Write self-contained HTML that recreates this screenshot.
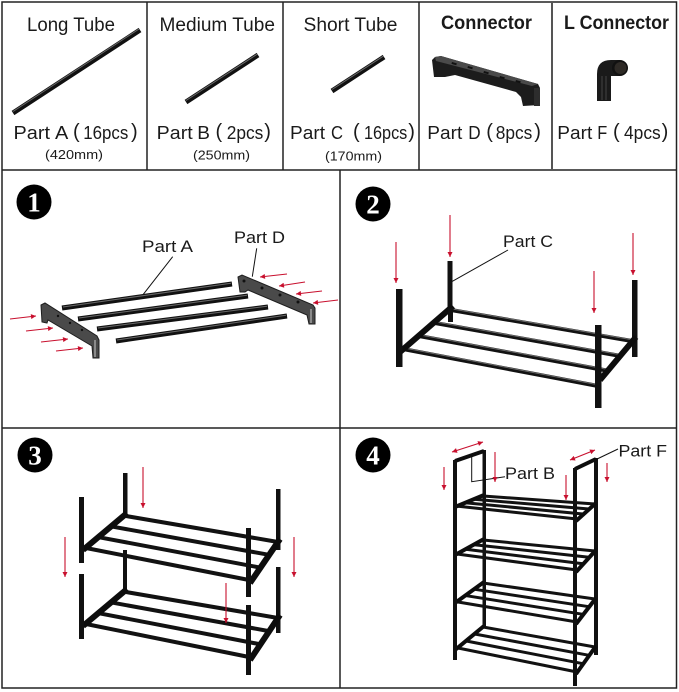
<!DOCTYPE html>
<html><head><meta charset="utf-8">
<style>
html,body{margin:0;padding:0;background:#fff;}
svg{display:block;}
.t{font-family:"Liberation Sans","Noto Sans CJK SC",sans-serif;fill:#1a1a1a;}
.num{font-family:"Liberation Serif",serif;font-weight:bold;fill:#fff;font-size:27px;}
.tube{stroke:#111;stroke-width:5;stroke-linecap:butt;}
.hl{stroke:#6a6a6a;stroke-width:1;}
.rail{stroke:#121212;stroke-width:4;}
.rail4{stroke:#121212;stroke-width:3;}
.con{stroke:#0d0d0d;stroke-width:6;}
.con4{stroke:#0d0d0d;stroke-width:4;}
.ra{stroke:#c8102e;stroke-width:1.1;fill:none;}
.ld{stroke:#111;stroke-width:1;fill:none;}
.pl{font-family:"Liberation Sans",sans-serif;fill:#1a1a1a;font-size:18px;}
.pp{font-family:"Liberation Sans",sans-serif;fill:#1a1a1a;font-size:20px;}
</style></head>
<body>
<svg width="679" height="692" viewBox="0 0 679 692" xmlns="http://www.w3.org/2000/svg">
<defs>
<marker id="ah" viewBox="0 0 10 10" refX="10" refY="5" markerWidth="7" markerHeight="5" markerUnits="userSpaceOnUse" orient="auto-start-reverse">
<path d="M0,0 L10,5 L0,10 z" fill="#c8102e"/>
</marker>
</defs>

<!-- grid -->
<g stroke="#222" stroke-width="1.5" fill="none">
<rect x="2" y="2" width="674.5" height="686"/>
<line x1="2" y1="170" x2="676.5" y2="170"/>
<line x1="2" y1="428" x2="676.5" y2="428"/>
<line x1="340" y1="170" x2="340" y2="688"/>
<line x1="147" y1="2" x2="147" y2="170"/>
<line x1="283" y1="2" x2="283" y2="170"/>
<line x1="419" y1="2" x2="419" y2="170"/>
<line x1="552" y1="2" x2="552" y2="170" stroke="#555" stroke-width="2"/>
</g>

<!-- top row texts -->
<text class="t" x="27" y="31" font-size="19" textLength="88" lengthAdjust="spacingAndGlyphs">Long Tube</text>
<text class="t" x="159.5" y="31" font-size="19" textLength="115.5" lengthAdjust="spacingAndGlyphs">Medium Tube</text>
<text class="t" x="303.5" y="31" font-size="19" textLength="94" lengthAdjust="spacingAndGlyphs">Short Tube</text>
<text class="t" x="441" y="29" font-size="19" font-weight="bold" textLength="91" lengthAdjust="spacingAndGlyphs">Connector</text>
<text class="t" x="564" y="29" font-size="19" font-weight="bold" textLength="105" lengthAdjust="spacingAndGlyphs">L Connector</text>

<!-- Part labels top row -->
<text class="pl" x="13.5" y="139" textLength="36.5" lengthAdjust="spacingAndGlyphs">Part</text>
<text class="pl" x="55" y="139" textLength="13.3" lengthAdjust="spacingAndGlyphs">A</text>
<text class="pp" x="73" y="138">(</text>
<text class="pl" x="83.3" y="139" textLength="45" lengthAdjust="spacingAndGlyphs">16pcs</text>
<text class="pp" x="131" y="138">)</text>

<text class="pl" x="156.7" y="139" textLength="36" lengthAdjust="spacingAndGlyphs">Part</text>
<text class="pl" x="197.3" y="139" textLength="12.7" lengthAdjust="spacingAndGlyphs">B</text>
<text class="pp" x="215.5" y="138">(</text>
<text class="pl" x="226.7" y="139" textLength="36.6" lengthAdjust="spacingAndGlyphs">2pcs</text>
<text class="pp" x="264.3" y="138">)</text>

<text class="pl" x="290" y="139" textLength="35" lengthAdjust="spacingAndGlyphs">Part</text>
<text class="pl" x="331" y="139" textLength="12" lengthAdjust="spacingAndGlyphs">C</text>
<text class="pp" x="353" y="138">(</text>
<text class="pl" x="364" y="139" textLength="43.3" lengthAdjust="spacingAndGlyphs">16pcs</text>
<text class="pp" x="408.3" y="138">)</text>

<text class="pl" x="427.3" y="139" textLength="35" lengthAdjust="spacingAndGlyphs">Part</text>
<text class="pl" x="468.3" y="139" textLength="12.4" lengthAdjust="spacingAndGlyphs">D</text>
<text class="pp" x="486.3" y="138">(</text>
<text class="pl" x="495.7" y="139" textLength="36.6" lengthAdjust="spacingAndGlyphs">8pcs</text>
<text class="pp" x="534.3" y="138">)</text>

<text class="pl" x="557.3" y="139" textLength="35" lengthAdjust="spacingAndGlyphs">Part</text>
<text class="pl" x="597.3" y="139" textLength="10" lengthAdjust="spacingAndGlyphs">F</text>
<text class="pp" x="613" y="138">(</text>
<text class="pl" x="624" y="139" textLength="36.7" lengthAdjust="spacingAndGlyphs">4pcs</text>
<text class="pp" x="661.6" y="138">)</text>

<text class="t" x="45" y="159" font-size="13" textLength="58" lengthAdjust="spacingAndGlyphs">(420mm)</text>
<text class="t" x="193" y="159.5" font-size="13" textLength="57" lengthAdjust="spacingAndGlyphs">(250mm)</text>
<text class="t" x="325" y="160.5" font-size="13" textLength="57" lengthAdjust="spacingAndGlyphs">(170mm)</text>

<!-- top row tubes -->
<line class="tube" x1="13" y1="113" x2="140" y2="30" stroke-width="5.5"/>
<line class="hl" x1="13" y1="111.5" x2="139" y2="29"/>
<line class="tube" x1="186" y1="102" x2="258" y2="55"/>
<line class="hl" x1="186" y1="100.5" x2="257.5" y2="54"/>
<line class="tube" x1="332" y1="91" x2="384" y2="57"/>
<line class="hl" x1="332" y1="89.5" x2="383.5" y2="56"/>

<!-- connector part D -->
<polygon points="432,60 435,57 441,56 538,84 540,88 540,105 523,106 521,97 516,92 455,75 450,76 445,77 434,77" fill="#1c1c1c"/>
<polygon points="435,57 441,56 538,84 532,86 436,61" fill="#4a4a4a"/>
<g fill="#111">
<rect x="452" y="62" width="5" height="2" transform="rotate(16 452 62)"/>
<rect x="468" y="66" width="5" height="2" transform="rotate(16 468 66)"/>
<rect x="484" y="71" width="5" height="2" transform="rotate(16 484 71)"/>
<rect x="500" y="76" width="5" height="2" transform="rotate(16 500 76)"/>
<rect x="516" y="80" width="5" height="2" transform="rotate(16 516 80)"/>
</g>
<rect x="534" y="88" width="6" height="18" fill="#2d2d2d"/>

<!-- L connector -->
<path d="M597 101 V74 Q597 60 611 60 H620 V76 H611 V101 Z" fill="#1a1a1a"/>
<circle cx="620" cy="68" r="8" fill="#111"/>
<circle cx="620.5" cy="68" r="6" fill="#2e2a26"/>
<line x1="602" y1="76" x2="602" y2="100" stroke="#444" stroke-width="1"/>
<line x1="606" y1="76" x2="606" y2="100" stroke="#444" stroke-width="1"/>

<!-- badges -->
<circle cx="34" cy="202" r="17.5" fill="#000"/>
<text class="num" x="34" y="211.5" text-anchor="middle">1</text>
<circle cx="373" cy="204" r="17.5" fill="#000"/>
<text class="num" x="373" y="213.5" text-anchor="middle">2</text>
<circle cx="35" cy="455" r="17.5" fill="#000"/>
<text class="num" x="35" y="464.5" text-anchor="middle">3</text>
<circle cx="373" cy="455" r="17.5" fill="#000"/>
<text class="num" x="373" y="464.5" text-anchor="middle">4</text>

<!-- PANEL 1 -->
<text class="t" x="142" y="252" font-size="16.5" textLength="51" lengthAdjust="spacingAndGlyphs">Part A</text>
<text class="t" x="234" y="243" font-size="16.5" textLength="51" lengthAdjust="spacingAndGlyphs">Part D</text>
<line class="ld" x1="172.7" y1="256.7" x2="143.3" y2="294.3"/>
<line class="ld" x1="256.7" y1="248.3" x2="252.3" y2="276.7"/>

<line class="tube" x1="62" y1="308" x2="232" y2="284"/>
<line class="hl" x1="63" y1="307" x2="231" y2="283.2"/>
<line class="tube" x1="78" y1="319" x2="248" y2="296"/>
<line class="hl" x1="79" y1="318" x2="247" y2="295.2"/>
<line class="tube" x1="97" y1="329" x2="268" y2="307"/>
<line class="hl" x1="98" y1="328" x2="267" y2="306.2"/>
<line class="tube" x1="116" y1="341" x2="287" y2="316"/>
<line class="hl" x1="117" y1="340" x2="286" y2="315.2"/>

<polygon points="41,305 45,303 97,336 99,340 99,358 93,358 92,346 48,320 47,323 42,322" fill="#4a4a4a" stroke="#1e1e1e" stroke-width="1"/>
<line x1="95" y1="340" x2="95" y2="357" stroke="#ccc" stroke-width="1"/>
<polygon points="238,277 242,275 313,305 315,308 315,324 309,324 307,315 248,290 245,292 240,292" fill="#4a4a4a" stroke="#1e1e1e" stroke-width="1"/>
<line x1="311" y1="309" x2="311" y2="323" stroke="#ccc" stroke-width="1"/>
<g fill="#111">
<circle cx="244" cy="281" r="1.5"/><circle cx="262" cy="288" r="1.5"/><circle cx="280" cy="295" r="1.5"/><circle cx="298" cy="302" r="1.5"/>
<circle cx="58" cy="316" r="1.2"/><circle cx="70" cy="323" r="1.2"/><circle cx="82" cy="330" r="1.2"/>
</g>

<g class="ra" marker-end="url(#ah)">
<line x1="10" y1="319" x2="36" y2="316"/>
<line x1="26" y1="331" x2="53" y2="328"/>
<line x1="41" y1="342" x2="68" y2="339"/>
<line x1="56" y1="351" x2="83" y2="348"/>
<line x1="287" y1="274" x2="260" y2="277"/>
<line x1="305" y1="282" x2="279" y2="286"/>
<line x1="322" y1="291" x2="296" y2="294"/>
<line x1="338" y1="300" x2="313" y2="303"/>
</g>

<!-- PANEL 2 -->
<text class="t" x="503" y="247" font-size="16.5" textLength="50" lengthAdjust="spacingAndGlyphs">Part C</text>
<line class="ld" x1="508" y1="250" x2="451.7" y2="281.7"/>
<rect x="447.5" y="261" width="5" height="51" fill="#111"/>
<rect x="632" y="280" width="5.5" height="77" fill="#111"/>
<line class="rail" x1="451" y1="310" x2="632" y2="341"/>
<line class="rail" x1="435" y1="323" x2="620.7" y2="356"/>
<line class="rail" x1="419" y1="336" x2="609.3" y2="371"/>
<line class="rail" x1="403" y1="349" x2="598" y2="386"/>
<g class="hl"><line x1="451" y1="308.8" x2="632" y2="339.8"/><line x1="435" y1="321.8" x2="620.7" y2="354.8"/><line x1="419" y1="334.8" x2="609.3" y2="369.8"/><line x1="403" y1="347.8" x2="598" y2="384.8"/></g>
<line class="con" x1="453" y1="306" x2="400" y2="352"/>
<line class="con" x1="636" y1="337" x2="600" y2="380"/>
<rect x="448" y="308" width="5" height="14" fill="#111"/>
<rect x="396" y="289" width="6.5" height="78" fill="#111"/>
<rect x="595" y="325" width="6.5" height="83" fill="#111"/>
<g class="ra" marker-end="url(#ah)">
<line x1="396" y1="242" x2="396" y2="283"/>
<line x1="450" y1="215" x2="450" y2="257"/>
<line x1="594" y1="271" x2="594" y2="313"/>
<line x1="633" y1="233" x2="633" y2="275"/>
</g>

<!-- PANEL 3 -->
<rect x="123" y="473" width="4.5" height="44" fill="#111"/>
<rect x="276" y="489" width="4.5" height="61" fill="#111"/>
<line class="rail" x1="126" y1="516" x2="278" y2="542"/>
<line class="rail" x1="112.7" y1="526.7" x2="268.3" y2="554.7"/>
<line class="rail" x1="99.3" y1="537.3" x2="258.7" y2="567.3"/>
<line class="rail" x1="86" y1="548" x2="249" y2="580"/>
<line class="con" x1="127" y1="513" x2="83" y2="550"/>
<line class="con" x1="280" y1="539" x2="250" y2="583"/>
<rect x="79" y="497" width="5" height="66" fill="#111"/>
<rect x="246" y="528" width="5" height="69" fill="#111"/>
<rect x="123" y="550" width="4" height="42" fill="#111"/>
<rect x="276" y="567" width="4.5" height="66" fill="#111"/>
<line class="rail" x1="126" y1="592" x2="278" y2="618"/>
<line class="rail" x1="112.7" y1="602.7" x2="268.3" y2="631"/>
<line class="rail" x1="99.3" y1="613.3" x2="258.7" y2="644"/>
<line class="rail" x1="86" y1="624" x2="249" y2="657"/>
<line class="con" x1="127" y1="589" x2="83" y2="626"/>
<line class="con" x1="280" y1="615" x2="250" y2="660"/>
<rect x="79" y="574" width="5" height="65" fill="#111"/>
<rect x="246" y="605" width="5" height="70" fill="#111"/>
<g class="ra" marker-end="url(#ah)">
<line x1="143" y1="467" x2="143" y2="508"/>
<line x1="65" y1="537" x2="65" y2="577"/>
<line x1="294" y1="537" x2="294" y2="577"/>
<line x1="226" y1="583" x2="226" y2="623"/>
</g>

<!-- PANEL 4 -->
<rect x="482.5" y="450" width="3.5" height="178" fill="#111"/>
<rect x="594" y="458" width="4" height="197" fill="#111"/>
<line class="con4" x1="455" y1="461" x2="484" y2="451"/>
<line class="con4" x1="575" y1="469" x2="596" y2="459"/>
<line class="rail4" x1="483" y1="496" x2="595" y2="504"/>
<line class="rail4" x1="474" y1="499.3" x2="589" y2="509"/>
<line class="rail4" x1="465" y1="502.7" x2="583" y2="514"/>
<line class="rail4" x1="456" y1="506" x2="577" y2="519"/>
<line class="con4" x1="484" y1="495" x2="455" y2="507"/>
<line class="con4" x1="596" y1="503" x2="576" y2="521"/>
<line class="rail4" x1="483" y1="540" x2="595" y2="551"/>
<line class="rail4" x1="474.3" y1="544.7" x2="589" y2="557.3"/>
<line class="rail4" x1="465.7" y1="549.3" x2="583" y2="563.7"/>
<line class="rail4" x1="457" y1="554" x2="577" y2="570"/>
<line class="con4" x1="484" y1="539" x2="455" y2="555"/>
<line class="con4" x1="596" y1="550" x2="576" y2="572"/>
<line class="rail4" x1="483" y1="583" x2="595" y2="599"/>
<line class="rail4" x1="474.7" y1="589.3" x2="589" y2="606.7"/>
<line class="rail4" x1="466.3" y1="595.7" x2="583" y2="614.3"/>
<line class="rail4" x1="458" y1="602" x2="577" y2="622"/>
<line class="con4" x1="484" y1="582" x2="455" y2="603"/>
<line class="con4" x1="596" y1="598" x2="576" y2="624"/>
<line class="rail4" x1="483" y1="627" x2="595" y2="647"/>
<line class="rail4" x1="474.7" y1="634" x2="589" y2="655.3"/>
<line class="rail4" x1="466.3" y1="641" x2="583" y2="663.7"/>
<line class="rail4" x1="458" y1="648" x2="577" y2="672"/>
<line class="con4" x1="484" y1="626" x2="455" y2="650"/>
<line class="con4" x1="596" y1="646" x2="576" y2="674"/>
<rect x="453" y="460" width="4" height="200" fill="#111"/>
<rect x="573" y="468" width="4" height="218" fill="#111"/>

<text class="t" x="505" y="479" font-size="16.5" textLength="50" lengthAdjust="spacingAndGlyphs">Part B</text>
<text class="t" x="618.5" y="456.5" font-size="16.5" textLength="48.5" lengthAdjust="spacingAndGlyphs">Part F</text>
<polyline class="ld" points="471.7,456.7 471.7,481.7 505,476.7"/>
<line class="ld" x1="618" y1="449" x2="595" y2="460"/>
<g class="ra" marker-end="url(#ah)">
<line x1="444" y1="467" x2="444" y2="490"/>
<line x1="495" y1="452" x2="495" y2="482"/>
<line x1="566" y1="475" x2="566" y2="500"/>
<line x1="607" y1="463" x2="607" y2="482"/>
<line x1="452" y1="452" x2="483" y2="442" marker-start="url(#ah)"/>
<line x1="570" y1="460" x2="595" y2="450" marker-start="url(#ah)"/>
</g>
</svg>
</body></html>
